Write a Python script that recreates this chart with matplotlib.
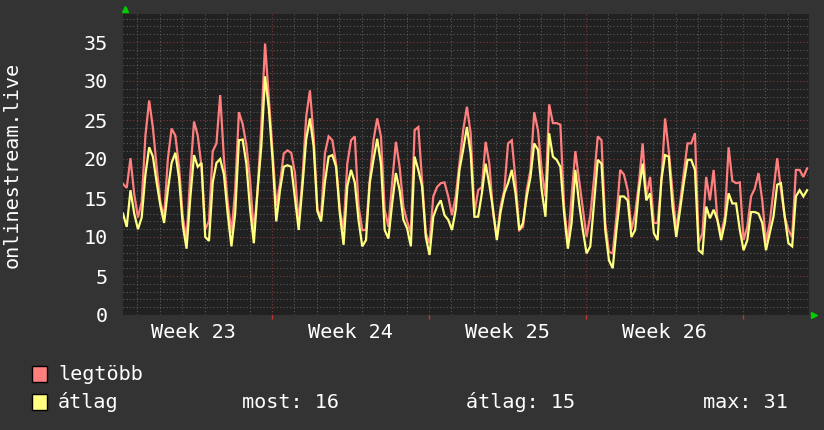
#!/usr/bin/env python3
"""RRD-style monthly graph of onlinestream.live listeners."""

import numpy as np
import matplotlib
matplotlib.use("Agg")
import matplotlib.pyplot as plt
from matplotlib.patches import Rectangle

# samples every 4 hours, starting 0.357 days after Monday of week 23
start_day = 0.357
step_hours = 4

legtobb = [
    16.8, 16.3, 20.1, 15.5, 12.5, 14.5, 23, 27.5, 24, 19, 14.5, 12.5, 20, 23.9, 23, 19, 12.5, 9.7, 18, 24.8,
    23, 19, 11, 12, 21, 22, 28.2, 20, 14.5, 10.5,
    16, 26, 24.5, 21.8, 17.3, 10.5, 16, 24.3, 34.8, 28, 21, 14, 16.9, 20.7, 21.1, 20.8, 18.2, 11.8, 17.5, 25.4,
    28.8, 22.9, 13.5, 12.6, 20.7, 22.9, 22.4, 19.4, 13.5, 10.9, 19.4, 22.4,
    22.9, 14, 10.9, 10.9, 17.3, 22.4, 25.2, 22.9, 13.5, 11.3, 17, 22.2, 19, 13.9, 12, 10.5, 23.7, 24.1, 17.3, 10.5,
    9.2, 15.2, 16.4, 16.9, 17, 15.2, 12.8, 15.2, 19.4, 23.7, 26.7,
    23.3, 13, 16, 16.4, 22.2, 19.4, 13, 10, 13.9, 16, 22, 22.4, 17.3, 10.9, 11.3, 16, 18.6, 26, 23.7, 18.6,
    15.2, 27, 24.6, 24.6, 24.4, 13.9, 9.2, 15.2, 21, 17.3, 13.5,
    10, 12.8, 17.5, 22.9, 22.4, 11.8, 8.1, 7.9, 12.6, 18.6, 18, 16, 10.9, 13, 16.9, 22, 15.2, 17.7, 11.8, 11.8,
    16.9, 25.2, 21, 15.8, 10.9, 14.3, 18.2, 22, 22, 23.3,
    9.2, 10.5, 17.7, 14.7, 18.6, 12.2, 10.3, 12.6, 21.5, 17.2, 16.9, 17, 9.6, 11.3, 15.2, 16.2, 18.2, 14.7, 9.4, 11.8,
    16, 20.1, 16, 12.6, 10.9, 10, 18.6, 18.6, 17.7, 18.8,
]

atlag = [
    13, 11.3, 16, 13, 11, 12.5, 18, 21.5, 20.3, 17, 14, 11.8, 16, 19.5, 20.8, 17.5, 11.5, 8.5, 15, 20.5,
    19, 19.5, 10, 9.5, 17, 19.5, 20, 18, 13, 8.8,
    13, 22.4, 22.5, 19.4, 13.5, 9.2, 16, 21.6, 30.6, 26.5, 20, 12, 16, 19, 19.2, 19, 15, 10.9, 16.5, 22.5,
    25.2, 21.6, 13.3, 12, 17, 20.3, 20.5, 19, 13, 9, 16.5, 18.6,
    17, 12.2, 8.8, 9.6, 16.9, 19.9, 22.6, 19.4, 10.9, 9.8, 14.3, 18.2, 16, 12.2, 11.1, 8.8, 20.3, 18.6, 16.5, 10,
    7.7, 12.6, 13.9, 14.7, 12.8, 12.2, 10.9, 13.5, 18.6, 21.2, 24.1,
    20.7, 12.6, 12.6, 15.6, 19.4, 16.7, 13.5, 9.6, 13.2, 15.6, 16.9, 18.6, 15.6, 10.9, 11.8, 15.2, 17.7, 22, 21.2, 16,
    12.6, 23.3, 20.3, 19.9, 19, 13, 8.5, 11.8, 18.6, 14.3, 10.9,
    7.9, 8.8, 14.3, 19.9, 19.4, 10.9, 7.0, 6.0, 10.9, 15.2, 15.2, 14.7, 10.0, 10.9, 16, 19.4, 14.7, 15.6, 10.5, 9.6,
    17.3, 20.5, 20.3, 13.9, 10, 13.5, 16.9, 19.9, 19.9, 18.6,
    8.3, 7.9, 13.9, 12.4, 13.5, 12.2, 9.6, 11.8, 15.6, 14.3, 14.3, 10.9, 8.3, 9.6, 13.2, 13.2, 13, 11.8, 8.3, 10.5,
    12.6, 16.7, 16.9, 12.6, 9.2, 8.8, 15.2, 16, 15.2, 16,
]

week_labels = ["Week 23", "Week 24", "Week 25", "Week 26"]
y_ticks = [0, 5, 10, 15, 20, 25, 30, 35]
legend_names = ["legtöbb", "átlag"]
legend_stats = ["most: 16", "átlag: 15", "max: 31"]

BG = "#333333"
PLOT_BG = "#212121"
RED = "#ff7f7f"
YELLOW = "#ffff80"
TEXT = "#ffffff"
MINOR = "#595959"
MAJOR = "#803838"
MONO = "DejaVu Sans Mono"
FS = 14.5

W, H = 824, 430
fig = plt.figure(figsize=(W / 100, H / 100), dpi=100, facecolor=BG)
left, right, top, bottom = 123, 809, 14, 315
ax = fig.add_axes([left / W, 1 - bottom / H, (right - left) / W, (bottom - top) / H])
ax.set_facecolor(PLOT_BG)
for s in ax.spines.values():
    s.set_visible(False)

days = start_day + np.arange(len(legtobb)) * step_hours / 24.0
x0, x1 = start_day, start_day + (right - left) / 22.43
y1 = (bottom - top) / 7.8
ax.set_xlim(x0, x1)
ax.set_ylim(0, y1)

# grid: dotted gray every unit/day, dotted red every 5 units/week
dot = (0, (1, 2))
for v in range(1, int(y1) + 1):
    col = MAJOR if v % 5 == 0 else MINOR
    ax.axhline(v, color=col, lw=0.8, ls=dot, zorder=1)
for d in range(1, int(x1) + 1):
    col = MAJOR if d % 7 == 0 else MINOR
    ax.axvline(d, color=col, lw=0.8, ls=dot, zorder=1)

ax.plot(days, legtobb, color=RED, lw=1.6, zorder=3, solid_joinstyle="miter")
ax.plot(days, atlag, color=YELLOW, lw=1.6, zorder=4, solid_joinstyle="miter")

ax.set_yticks(y_ticks)
ax.set_yticklabels([str(t) for t in y_ticks], fontfamily=MONO, fontsize=FS, color=TEXT)
ax.tick_params(axis="y", length=0, pad=11)

ax.set_xticks([7, 14, 21, 28])
ax.set_xticklabels([])
ax.tick_params(axis="x", length=3, color="#cc3333", width=1)
for i, lab in enumerate(week_labels):
    ax.text(3.5 + 7 * i, -0.025, lab, transform=ax.get_xaxis_transform(),
            ha="center", va="top", fontfamily=MONO, fontsize=FS, color=TEXT)

fig.text(12 / W, 1 - 165 / H, "onlinestream.live", rotation=90, ha="center", va="center",
         fontfamily=MONO, fontsize=FS, color=TEXT)

# green axis arrows
ax.plot([0.003], [1.015], marker="^", color="#00cc00", ms=5, transform=ax.transAxes, clip_on=False)
ax.plot([1.008], [0.0], marker=">", color="#00cc00", ms=5, transform=ax.transAxes, clip_on=False)

# legend
colors = [RED, YELLOW]
rows_y = [374, 402]
for name, c, yy in zip(legend_names, colors, rows_y):
    fig.patches.append(Rectangle((32 / W, 1 - (yy + 8) / H), 15 / W, 16 / H,
                                 transform=fig.transFigure, facecolor=c,
                                 edgecolor="black", lw=1))
    fig.text(58 / W, 1 - yy / H, name, ha="left", va="center",
             fontfamily=MONO, fontsize=FS, color=TEXT)
for txt, xx in zip(legend_stats, [242, 466, 703]):
    fig.text(xx / W, 1 - rows_y[1] / H, txt, ha="left", va="center",
             fontfamily=MONO, fontsize=FS, color=TEXT)

fig.savefig("out.png", dpi=100, facecolor=BG)
